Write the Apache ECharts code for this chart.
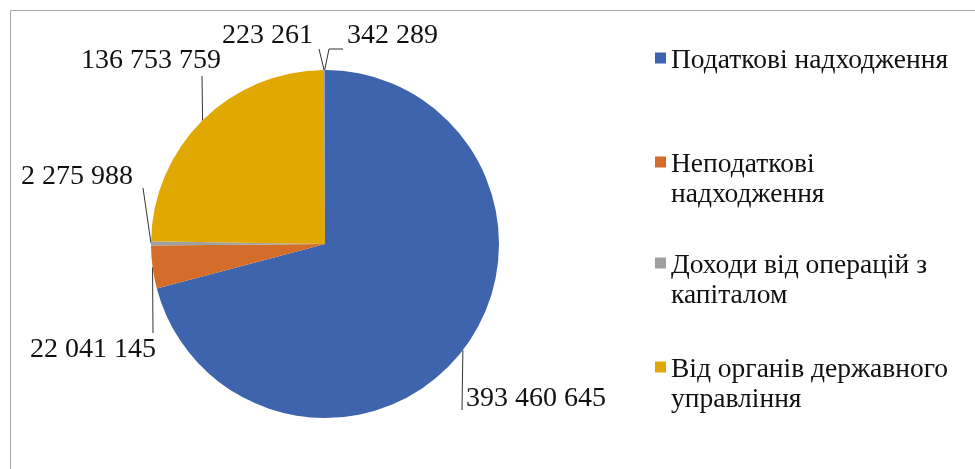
<!DOCTYPE html>
<html>
<head>
<meta charset="utf-8">
<script src="https://cdn.jsdelivr.net/npm/echarts@6/dist/echarts.min.js"></script>
<style>
  html, body { margin: 0; padding: 0; background: #fff; }
  #main { width: 975px; height: 469px; }
</style>
</head>
<body>
<div id="main"></div>
<script>
// дані діаграми
var names = ['Податкові надходження', 'Неподаткові надходження', 'Доходи від операцій з капіталом',
    'Від органів державного управління', 'Інше 1', 'Інше 2'];
var values = [393460645, 22041145, 2275988, 136753759, 223261, 342289];
var colors = ['#3d64ad', '#d46d29', '#a0a0a0', '#e0a800', '#2f5597', '#6f93cf'];
var legendNames = names.slice(0, 4);

var font = 'Liberation Serif';
var fontSize = 28;
var legendFontSize = 27.5;

function fmt(v) {
    return String(v).replace(/\B(?=(\d{3})+(?!\d))/g, ' ');
}

// перенос тексту легенди по словах
var ctx = document.createElement('canvas').getContext('2d');
ctx.font = legendFontSize + 'px "' + font + '"';
function wrap(text, maxW) {
    var words = text.split(' ');
    var lines = [];
    var cur = '';
    words.forEach(function (w) {
        var t = cur ? cur + ' ' + w : w;
        if (cur && ctx.measureText(t).width > maxW) {
            lines.push(cur);
            cur = w;
        } else {
            cur = t;
        }
    });
    lines.push(cur);
    return lines.join('\n');
}

// де стоять підписи і куди йдуть лінії-виноски
var spots = [
    {x: 466, y: 399, align: 'left', line: [[462, 410]]},
    {x: 156, y: 350, align: 'right', line: [[153, 333]]},
    {x: 133, y: 177, align: 'right', line: [[143, 188]]},
    {x: 221, y: 61, align: 'right', line: [[202, 76]]},
    {x: 313, y: 36, align: 'right', line: [[319, 49]]},
    {x: 347, y: 36, align: 'left', line: [[329, 49], [343, 49]]}
];

var legendTops = [46, 150, 251, 355];

var myChart = echarts.init(document.getElementById('main'));

var option = {
    animation: false,
    color: colors,
    graphic: [{
        type: 'rect',
        shape: {x: 10.5, y: 10.5, width: 1200, height: 1200},
        style: {fill: 'none', stroke: '#a6a6a6', lineWidth: 1},
        silent: true
    }],
    legend: legendNames.map(function (n, i) {
        var txt = wrap(n, 290);
        var h = txt.split('\n').length * 30;
        return {
            left: 655,
            top: legendTops[i],
            orient: 'vertical',
            padding: 0,
            selectedMode: false,
            itemWidth: 11,
            itemHeight: h,
            itemStyle: {borderWidth: 0},
            data: [{name: n, icon: 'path://M0,0L0,' + h + 'M0,6.5L11,6.5L11,17.5L0,17.5Z'}],
            formatter: function () { return txt; },
            textStyle: {
                fontFamily: font,
                fontSize: legendFontSize,
                lineHeight: 30,
                color: '#111'
            }
        };
    }),
    series: [{
        type: 'pie',
        center: [325, 244],
        radius: 174,
        startAngle: 90,
        clockwise: true,
        avoidLabelOverlap: false,
        itemStyle: {borderWidth: 0},
        emphasis: {disabled: true},
        label: {
            show: true,
            position: 'outside',
            fontFamily: font,
            fontSize: fontSize,
            color: '#111',
            formatter: function (p) { return fmt(p.value); }
        },
        labelLine: {
            show: true,
            length: 10,
            length2: 10,
            lineStyle: {color: '#333', width: 1}
        },
        labelLayout: function (params) {
            var s = spots[params.dataIndex];
            var start = params.labelLinePoints ? params.labelLinePoints[0] : s.line[0];
            var pts = [start].concat(s.line);
            if (pts.length < 3) pts.push(pts[pts.length - 1]);
            return {
                x: s.x,
                y: s.y,
                align: s.align,
                verticalAlign: 'middle',
                labelLinePoints: pts
            };
        },
        data: names.map(function (n, i) {
            return {name: n, value: values[i]};
        })
    }]
};

myChart.setOption(option);
</script>
</body>
</html>
